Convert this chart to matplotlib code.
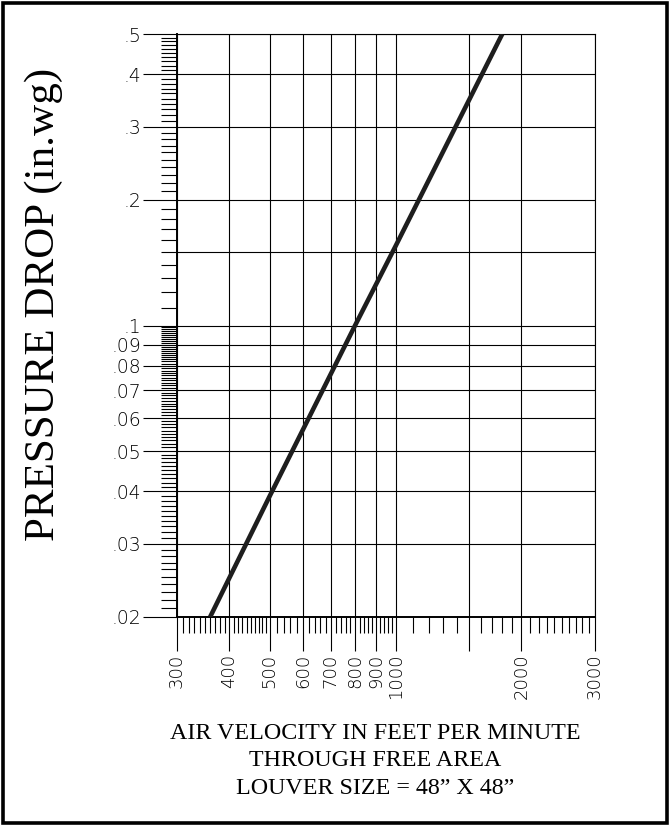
import matplotlib
matplotlib.use("Agg")
import matplotlib.pyplot as plt
from matplotlib.ticker import FixedLocator, NullFormatter
from matplotlib.patches import Rectangle
import numpy as np

# ---- data ----
velocity = [360, 500, 800, 1000, 1800]          # fpm
pressure = [0.020, 0.039, 0.100, 0.155, 0.50]   # in.wg

x_major = [300, 400, 500, 600, 700, 800, 900, 1000, 1500, 2000, 3000]
x_labels = ["300", "400", "500", "600", "700", "800", "900", "1000", "", "2000", "3000"]
y_major = [0.02, 0.03, 0.04, 0.05, 0.06, 0.07, 0.08, 0.09, 0.1, 0.2, 0.3, 0.4, 0.5]
y_labels = [".02", ".03", ".04", ".05", ".06", ".07", ".08", ".09", ".1", ".2", ".3", ".4", ".5"]
y_extra_grid = [0.15]

x_minor = (list(range(300, 500, 10)) + list(range(500, 1000, 20))
           + list(range(1000, 3001, 100)))
y_minor = ([round(v, 3) for v in np.arange(0.020, 0.1, 0.001)]
           + [round(v, 2) for v in np.arange(0.10, 0.501, 0.01)])

xlabel_text = "AIR VELOCITY IN FEET PER MINUTE\nTHROUGH FREE AREA\nLOUVER SIZE = 48\u201d X 48\u201d"
ylabel_text = "PRESSURE DROP (in.wg)"

W, H = 669, 825
fig = plt.figure(figsize=(W / 100, H / 100), dpi=100)
fig.patch.set_facecolor("white")

L, R, T, B = 177, 595, 34, 617
ax = fig.add_axes([L / W, 1 - B / H, (R - L) / W, (B - T) / H])
ax.set_xscale("log")
ax.set_yscale("log")
ax.set_xlim(300, 3000)
ax.set_ylim(0.02, 0.5)

# grid lines
for xv in x_major:
    ax.axvline(xv, color="black", lw=0.8, zorder=1)
for yv in y_major + y_extra_grid:
    ax.axhline(yv, color="black", lw=0.8, zorder=1)

# curve
ax.plot(velocity, pressure, color="#1e1e1e", lw=3.3, solid_capstyle="butt", zorder=3)

# ticks
ax.xaxis.set_major_locator(FixedLocator(x_major))
ax.xaxis.set_minor_locator(FixedLocator(x_minor))
ax.yaxis.set_major_locator(FixedLocator(y_major))
ax.yaxis.set_minor_locator(FixedLocator(y_minor))
ax.set_xticklabels(x_labels, rotation=90, fontsize=13, fontfamily="DejaVu Sans",
                   fontweight="light")
ax.set_yticklabels(y_labels, fontsize=13.5, fontfamily="DejaVu Sans", fontweight="light")
ax.xaxis.set_minor_formatter(NullFormatter())
ax.yaxis.set_minor_formatter(NullFormatter())

ax.tick_params(axis="both", which="major", direction="out", length=24.5, width=0.8,
               color="black")
ax.tick_params(axis="both", which="minor", direction="out", length=11.8, width=0.8,
               color="black")
ax.tick_params(axis="x", which="major", pad=2)
ax.tick_params(axis="y", which="major", pad=1)

for s in ["left", "bottom"]:
    ax.spines[s].set_linewidth(1.4)
for s in ["top", "right"]:
    ax.spines[s].set_linewidth(0.8)

# axis titles
fig.text(44 / W, 1 - 304 / H, ylabel_text, rotation=90, ha="center", va="center",
         fontsize=31, fontfamily="Liberation Serif")
fig.text(375 / W, 1 - 761 / H, xlabel_text, ha="center", va="center",
         multialignment="center", fontsize=17.3, fontfamily="Liberation Serif",
         linespacing=1.38)

# page frame
fig.patches.append(Rectangle((2.5 / W, 2.5 / H), 1 - 5 / W, 1 - 5 / H,
                             transform=fig.transFigure, fill=False,
                             edgecolor="black", lw=2.6))

fig.savefig("out.png", dpi=100)
